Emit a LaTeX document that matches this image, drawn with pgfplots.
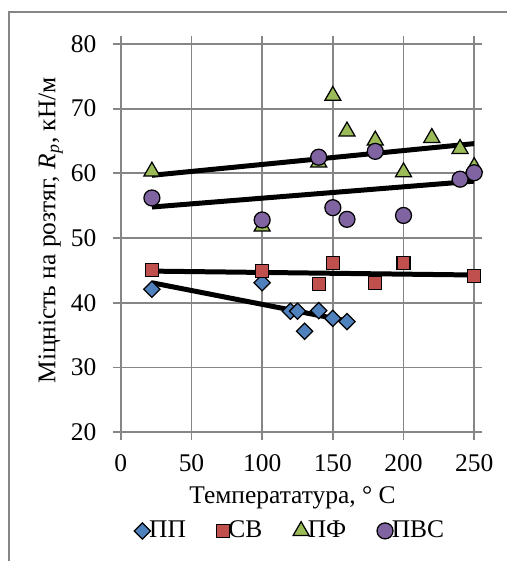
\documentclass[border=0pt]{standalone}
\usepackage{fontspec}
\setmainfont{Liberation Serif}
\usepackage{pgfplots}
\pgfplotsset{compat=1.18}

\definecolor{grd}{RGB}{134,134,134}
\definecolor{frm}{RGB}{134,134,134}
\definecolor{cPP}{RGB}{79,129,189}
\definecolor{cSV}{RGB}{192,80,77}
\definecolor{cPF}{RGB}{155,187,89}
\definecolor{cPVS}{RGB}{128,100,162}

\begin{document}
\fontsize{10.2}{12.2}\selectfont
\begin{tikzpicture}
% 1 px of the reference = 0.4pt, origin at the plot's lower left corner
\begin{axis}[
    at={(0pt,0pt)}, anchor=south west,
    scale only axis,
    width=141.6pt,
    height=155.6pt,
    xmin=0, xmax=250,
    ymin=20, ymax=80,
    xtick={0,50,...,250},
    ytick={20,30,...,80},
    grid=major,
    major grid style={color=grd, line width=0.75pt, solid},
    axis line style={color=grd, line width=0.75pt},
    every tick/.style={color=grd, line width=0.75pt},
    tick align=outside,
    major tick length=3.2pt,
    /pgf/number format/assume math mode=true,
    xticklabel style={yshift=-2pt},
    yticklabel style={xshift=-3pt},
    xlabel={Температатура, ° С},
    ylabel={Міцність на розтяг, \textit{R}\textsubscript{\textit{p}}, кН/м},
    xlabel style={at={(axis description cs:0.486,-0.168)}, anchor=center},
    ylabel style={at={(axis description cs:-0.198,0.52)}, anchor=center},
    legend columns=4,
    legend style={draw=none, fill=none, at={(axis description cs:0.48,-0.254)}, anchor=center,
        nodes={inner xsep=1pt},
        /tikz/every odd column/.append style={column sep=-1.5pt},
        /tikz/every even column/.append style={column sep=11.3pt},
        inner sep=0pt},
    legend image code/.code={\draw[#1] plot coordinates {(0.12cm,0cm)};},
    legend cell align=left,
]
% ПП
\addplot[only marks, mark=square*, mark size=2.3pt, mark options={rotate=45, fill=cPP, draw=black, line width=0.5pt}]
coordinates {(22,42.1)(100,43.1)(120,38.7)(125,38.7)(130,35.6)(140,38.8)(150,37.6)(160,37.1)};
\addlegendentry{ПП}
\addplot[black, line width=2pt, forget plot] coordinates {(22,43.1)(160,37.2)};
% СВ
\addplot[only marks, mark=square*, mark size=2.6pt, mark options={fill=cSV, draw=black, line width=0.5pt}]
coordinates {(22,45.1)(100,44.9)(140,42.9)(150,46.1)(180,43.1)(200,46.1)(250,44.1)};
\addlegendentry{СВ}
\addplot[black, line width=2pt, forget plot] coordinates {(22,44.9)(250,44.3)};
% ПФ
\addplot[only marks, mark=triangle*, mark size=3.7pt, mark options={fill=cPF, draw=black, line width=0.5pt}]
coordinates {(22,60.3)(100,51.8)(140,61.7)(150,72)(160,66.5)(180,65.1)(200,60.2)(220,65.5)(240,63.8)(250,61)};
\addlegendentry{ПФ}
\addplot[black, line width=2pt, forget plot] coordinates {(22,59.7)(250,64.6)};
% ПВС
\addplot[only marks, mark=*, mark size=3.2pt, mark options={fill=cPVS, draw=black, line width=0.5pt}]
coordinates {(22,56.2)(100,52.8)(140,62.5)(150,54.7)(160,52.9)(180,63.4)(200,53.5)(240,59.1)(250,60.1)};
\addlegendentry{ПВС}
\addplot[black, line width=2pt, forget plot] coordinates {(22,54.8)(250,58.8)};
\end{axis}
\draw[color=frm, line width=0.75pt] (-44.8pt,-51.6pt) -- (-44.8pt,168.4pt) -- (154.8pt,168.4pt);
\path (-48.4pt,-51.6pt) rectangle (154.8pt,173.2pt);
\end{tikzpicture}
\end{document}
